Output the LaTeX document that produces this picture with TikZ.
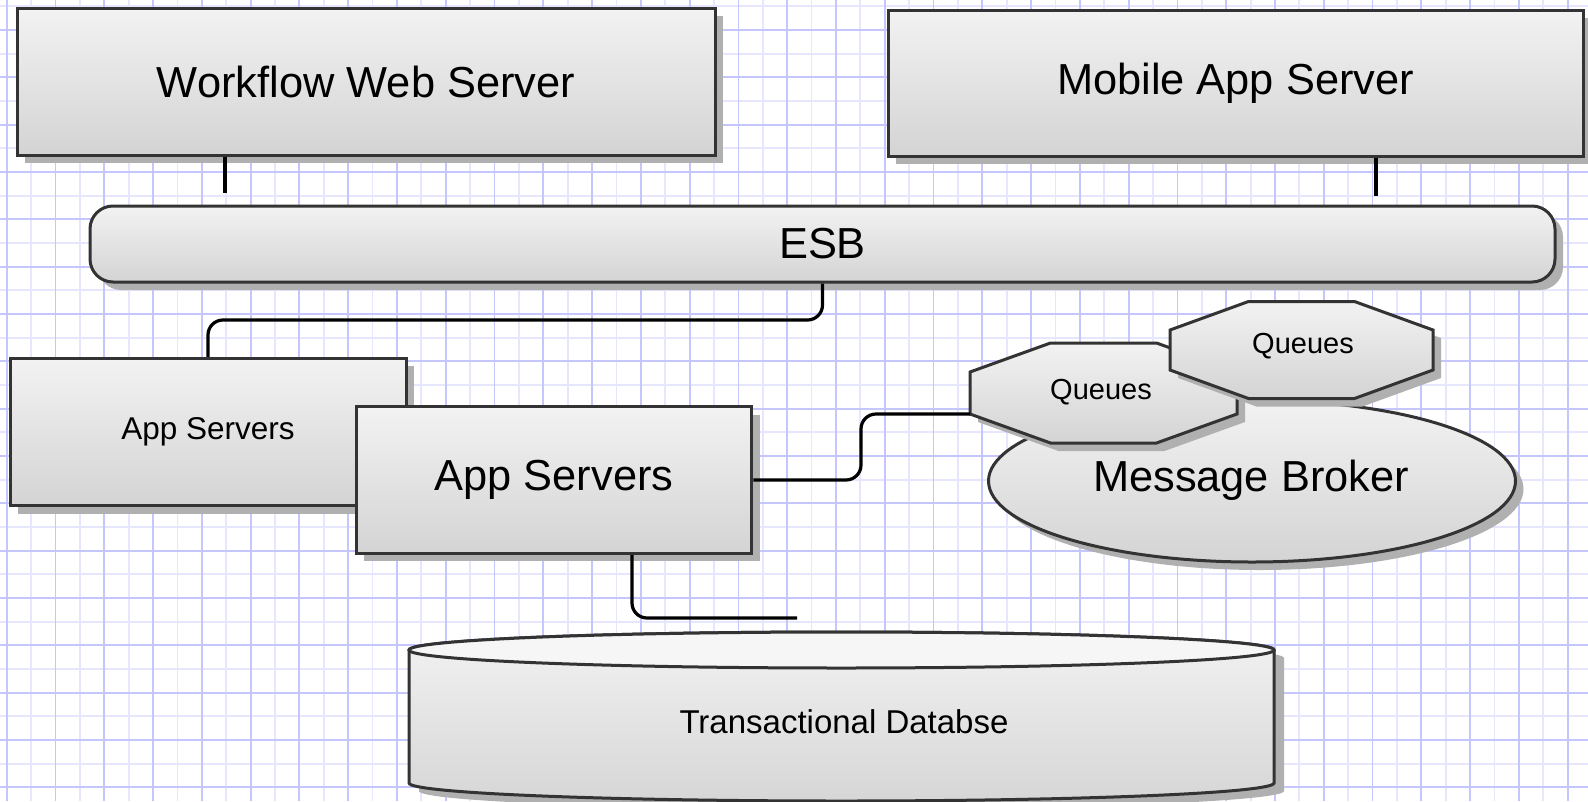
\documentclass[tikz,border=0pt]{standalone}
\usepackage{fontspec}
\setmainfont{Liberation Sans}
\usetikzlibrary{shadows,shapes.geometric}
\definecolor{gridA}{HTML}{C6C6FF}
\definecolor{gridB}{HTML}{E6E6FF}
\definecolor{edgec}{HTML}{333333}
\definecolor{shad}{HTML}{B0B0B0}
\tikzset{
  shadowed/.style={drop shadow={shadow xshift=8pt, shadow yshift=-8pt, fill=shad, opacity=1}},
  box/.style={draw=edgec, line width=3pt, top color=gray!10, bottom color=gray!34, shadowed, inner sep=0pt},
  bigtxt/.style={font=\fontsize{43.4}{50}\selectfont},
  smalltxt/.style={font=\fontsize{31.5}{38}\selectfont},
  qtxt/.style={font=\fontsize{29}{34}\selectfont},
  wire/.style={line width=3.2pt, black, rounded corners=15pt},
  gmajor/.style={draw=gridA, line width=1.8pt},
  gminor/.style={draw=gridB, line width=1.8pt},
}
\begin{document}
\begin{tikzpicture}[x=1pt,y=-1pt]
\useasboundingbox (0,0) rectangle (1588,801);
\fill[white] (0,0) rectangle (1588,801);
% grid
\foreach \k in {-1,...,32} \draw[gminor] ({31.09+48.78*\k},0) -- ({31.09+48.78*\k},801);
\foreach \k in {0,...,16} \draw[gminor] (0,{6.33+47.33*\k}) -- (1588,{6.33+47.33*\k});
\foreach \k in {0,...,32} \draw[gmajor] ({6.7+48.78*\k},0) -- ({6.7+48.78*\k},801);
\foreach \k in {0,...,16} \draw[gmajor] (0,{30+47.33*\k}) -- (1588,{30+47.33*\k});

% top servers
\node[box, bigtxt, minimum width=698pt, minimum height=147pt] (wf) at (366,81.5) {Workflow Web Server};
\node[box, bigtxt, minimum width=695pt, minimum height=146pt] (mob) at (1235.5,83) {Mobile App Server};

% ESB
\node[box, bigtxt, rounded corners=23pt, minimum width=1465pt, minimum height=76pt] (esb) at (822.5,244) {ESB};

% app servers
\node[box, smalltxt, minimum width=396pt, minimum height=147.5pt] (as1) at (208,432) {App Servers};
\node[box, bigtxt, minimum width=395.5pt, minimum height=146.5pt] (as2) at (554,480) {App Servers};

% message broker
\node[box, ellipse, minimum width=527pt, minimum height=162pt] (mb) at (1252,481) {};
\node[bigtxt] (mbt) at (1251,480) {Message Broker};

% queues 1
\begin{scope}[shift={(1103.5,393)}]
\draw[box] (-53,-50) -- (53,-50) -- (133.5,-21) -- (133.5,21) -- (53,50) -- (-53,50) -- (-133.5,21) -- (-133.5,-21) -- cycle;
\node[qtxt] (q1) at (-2.5,-1) {Queues};
\coordinate (q1in) at (-133.5,21);
\end{scope}
% queues 2
\begin{scope}[shift={(1301.5,350)}]
\draw[box] (-53,-48.5) -- (53,-48.5) -- (131.5,-20) -- (131.5,20) -- (53,48.5) -- (-53,48.5) -- (-131.5,20) -- (-131.5,-20) -- cycle;
\node[qtxt] (q2) at (1.5,-4) {Queues};
\end{scope}

% database cylinder
\fill[shad] (419,658) -- (419,791) arc (180:0:432.5 and 18) -- (1284,658) arc (0:-180:432.5 and 18) -- cycle;
\draw[draw=edgec, line width=3pt, top color=gray!10, bottom color=gray!32] (409,650) -- (409,783) arc (180:0:432.5 and 18) -- (1274,650) arc (0:-180:432.5 and 18) -- cycle;
\draw[draw=edgec, line width=3pt, fill=gray!7] (841.5,650) ellipse (432.5 and 18);
\node[font=\fontsize{33}{40}\selectfont] (db) at (844,722) {Transactional Databse};

% connectors
\coordinate (wfend) at (225,193);
\coordinate (mobend) at (1376,196);
\coordinate (dbend) at (797,618);
\draw[wire] (wfend |- wf.south) -- (wfend);
\draw[wire] (mobend |- mob.south) -- (mobend);
\draw[wire] (esb.south) -- (esb.south |- 0,320) -| (as1.north);
\draw[wire] (as2.east) -- (as2.east -| 861,0) |- (q1in);
\draw[wire] (as2.south -| 632,0) |- (dbend);
\end{tikzpicture}
\end{document}
